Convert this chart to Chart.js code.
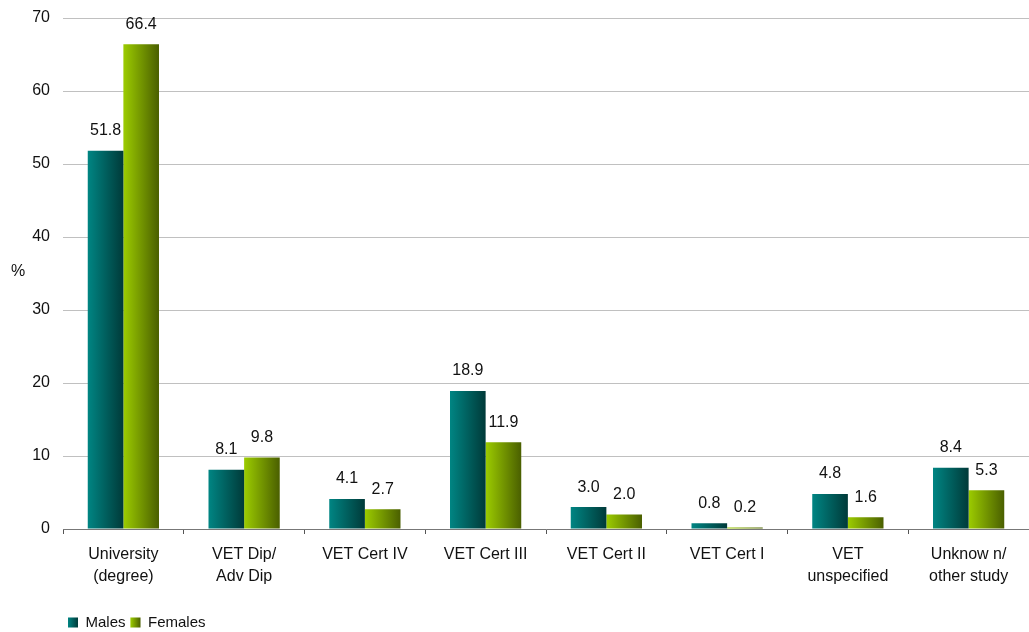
<!DOCTYPE html>
<html lang="en">
<head>
    <meta charset="UTF-8">
    <title>Qualification by sex</title>
    <script src="https://cdn.jsdelivr.net/npm/chart.js@4.4.0/dist/chart.umd.min.js"></script>
    <style>
        html, body { margin: 0; padding: 0; background: #fff; }
        #wrap { width: 1029px; height: 632px; }
    </style>
</head>
<body>
<div id="wrap"><canvas id="chart"></canvas></div>

<script>
// Study type categories (two-line axis labels)
const categories = [
    ['University', '(degree)'],
    ['VET Dip/', 'Adv Dip'],
    ['VET Cert IV'],
    ['VET Cert III'],
    ['VET Cert II'],
    ['VET Cert I'],
    ['VET', 'unspecified'],
    ['Unknow n/', 'other study']
];

// Percentages per sex
const males   = [51.8, 8.1, 4.1, 18.9, 3.0, 0.8, 4.8, 8.4];
const females = [66.4, 9.8, 2.7, 11.9, 2.0, 0.2, 1.6, 5.3];

const yTicks = [0, 10, 20, 30, 40, 50, 60, 70];

const FONT = 'Liberation Sans, Arial, sans-serif';

// left -> right colour stops for the shaded bars
const shades = [
    ['#008583', '#003a39'],
    ['#9ccc00', '#4a5f00']
];

function hGrad(ctx, x0, x1, stops) {
    const g = ctx.createLinearGradient(x0, 0, x1, 0);
    g.addColorStop(0, stops[0]);
    g.addColorStop(1, stops[1]);
    return g;
}

// shade every bar horizontally, dark on the right
const barShading = {
    id: 'barShading',
    beforeDatasetsDraw(chart) {
        const ctx = chart.ctx;
        chart.data.datasets.forEach((ds, i) => {
            chart.getDatasetMeta(i).data.forEach(el => {
                const g = hGrad(ctx, el.x - el.width / 2, el.x + el.width / 2, shades[i]);
                el.options = Object.assign({}, el.options, { backgroundColor: g });
            });
        });
    }
};

// value labels above bars, "%" axis caption, shaded legend boxes
const extras = {
    id: 'extras',
    afterDatasetsDraw(chart) {
        const ctx = chart.ctx;
        ctx.save();
        ctx.font = '16px ' + FONT;
        ctx.fillStyle = '#111';
        ctx.textAlign = 'center';
        ctx.textBaseline = 'middle';
        chart.data.datasets.forEach((ds, i) => {
            chart.getDatasetMeta(i).data.forEach((el, j) => {
                ctx.fillText(ds.data[j].toFixed(1), el.x, el.y - 20);
            });
        });
        ctx.restore();
    },
    afterDraw(chart) {
        const ctx = chart.ctx;
        ctx.save();
        ctx.font = '16px ' + FONT;
        ctx.fillStyle = '#111';
        ctx.textAlign = 'center';
        ctx.textBaseline = 'middle';
        ctx.fillText('%', 18, 272);

        const legend = chart.legend;
        (legend.legendHitBoxes || []).forEach((box, i) => {
            const bw = 10, bh = 10;
            const y = box.top + (box.height - bh) / 2;
            ctx.fillStyle = '#fff';
            ctx.fillRect(box.left, y - 1, bw + 1, bh + 2);
            ctx.fillStyle = hGrad(ctx, box.left, box.left + bw, shades[i]);
            ctx.fillRect(box.left, y, bw, bh);
        });
        ctx.restore();
    }
};

new Chart(document.getElementById('chart'), {
    type: 'bar',
    data: {
        labels: categories,
        datasets: [
            { label: 'Males', data: males, backgroundColor: shades[0][0], borderWidth: 0 },
            { label: 'Females', data: females, backgroundColor: shades[1][0], borderWidth: 0 }
        ]
    },
    options: {
        responsive: true,
        maintainAspectRatio: false,
        animation: false,
        layout: { padding: { top: 18, right: 0, left: 0, bottom: -8 } },
        datasets: {
            bar: { categoryPercentage: 0.59, barPercentage: 1.0 }
        },
        plugins: {
            tooltip: { enabled: false },
            legend: {
                position: 'bottom',
                align: 'start',
                fullSize: false,
                labels: {
                    boxWidth: 10,
                    boxHeight: 10,
                    padding: 5,
                    color: '#111',
                    font: { family: FONT, size: 15 }
                }
            }
        },
        scales: {
            x: {
                grid: {
                    drawOnChartArea: false,
                    drawTicks: true,
                    tickLength: 5,
                    color: '#555'
                },
                border: { display: true, color: '#777', width: 1 },
                ticks: {
                    color: '#111',
                    padding: 10,
                    maxRotation: 0,
                    font: { family: FONT, size: 16, lineHeight: 1.375 }
                },
                afterFit(scale) { scale.height = 81; }
            },
            y: {
                min: 0,
                max: 70,
                afterBuildTicks(scale) { scale.ticks = yTicks.map(v => ({ value: v })); },
                grid: { color: '#c0c0c0', drawTicks: false },
                border: { display: false },
                ticks: {
                    color: '#111',
                    padding: 13,
                    font: { family: FONT, size: 16 }
                },
                afterFit(scale) {
                    scale.width = 63;
                    scale.paddingTop = 0;
                }
            }
        }
    },
    plugins: [barShading, extras]
});
</script>
</body>
</html>
